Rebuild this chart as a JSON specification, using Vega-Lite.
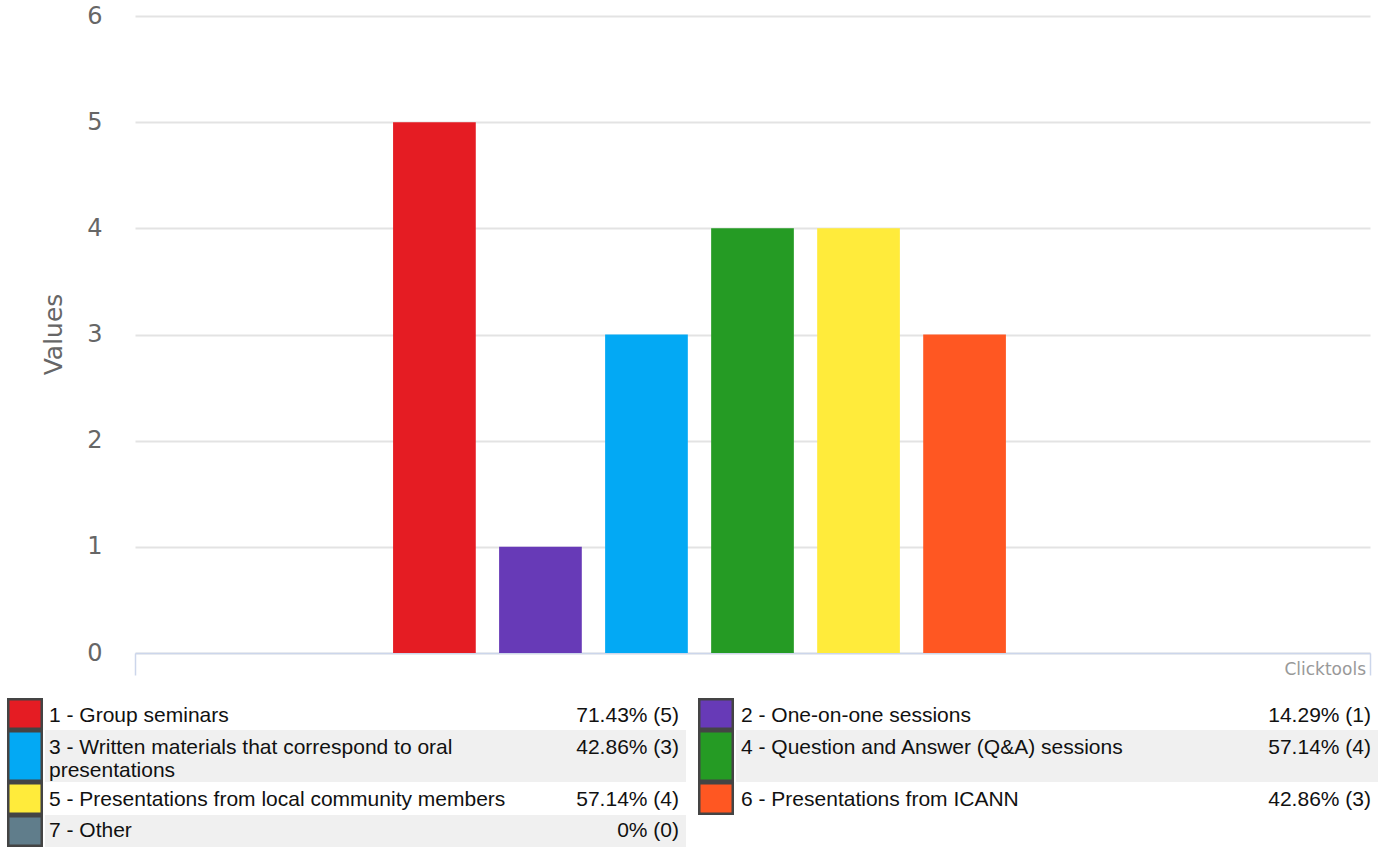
{
  "$schema": "https://vega.github.io/schema/vega-lite/v6.json",
  "padding": {"left": 7, "top": 4, "right": 0, "bottom": 0},
  "background": "white",
  "config": {"view": {"stroke": null}, "font": "Liberation Sans"},
  "data": {"values": [
    {"id": 1, "option": "1 - Group seminars", "legend_label": "1 - Group seminars", "count": 5, "share": "71.43% (5)"},
    {"id": 2, "option": "2 - One-on-one sessions", "legend_label": "2 - One-on-one sessions", "count": 1, "share": "14.29% (1)"},
    {"id": 3, "option": "3 - Written materials that correspond to oral presentations", "legend_label": "3 - Written materials that correspond to oral\npresentations", "count": 3, "share": "42.86% (3)"},
    {"id": 4, "option": "4 - Question and Answer (Q&A) sessions", "legend_label": "4 - Question and Answer (Q&A) sessions", "count": 4, "share": "57.14% (4)"},
    {"id": 5, "option": "5 - Presentations from local community members", "legend_label": "5 - Presentations from local community members", "count": 4, "share": "57.14% (4)"},
    {"id": 6, "option": "6 - Presentations from ICANN", "legend_label": "6 - Presentations from ICANN", "count": 3, "share": "42.86% (3)"},
    {"id": 7, "option": "7 - Other", "legend_label": "7 - Other", "count": 0, "share": "0% (0)"}
  ]},
  "spacing": 20,
  "vconcat": [
    {
      "spacing": 0,
      "hconcat": [
        {
          "data": {"values": [{"axis_title": "Values"}]},
          "width": 70,
          "height": 637,
          "mark": {"type": "text", "angle": 270, "align": "center", "baseline": "top", "font": "DejaVu Sans", "fontSize": 25, "color": "#666666"},
          "encoding": {"text": {"field": "axis_title"}}
        },
        {
          "width": 1235,
          "height": 637,
          "resolve": {"scale": {"x": "independent"}, "axis": {"x": "independent"}},
          "layer": [
            {
              "mark": {"type": "bar"},
              "encoding": {
                "x": {"datum": "Responses", "type": "nominal", "scale": {"paddingInner": 0, "paddingOuter": 0.332}, "axis": null},
                "xOffset": {"field": "option", "type": "nominal", "sort": null, "scale": {"paddingInner": 0.22, "paddingOuter": 0.11}},
                "y": {"field": "count", "type": "quantitative", "scale": {"domain": [0, 6]},
                  "axis": {"values": [0, 1, 2, 3, 4, 5, 6], "format": "d", "grid": true, "gridColor": "#e3e3e3", "gridWidth": 2, "domain": false, "ticks": false, "labelPadding": 33,
                    "labelFont": "DejaVu Sans", "labelFontSize": 24, "labelColor": "#666666", "minExtent": 58, "title": null}},
                "color": {"field": "option", "type": "nominal", "sort": null,
                  "scale": {"domain": ["1 - Group seminars", "2 - One-on-one sessions", "3 - Written materials that correspond to oral presentations", "4 - Question and Answer (Q&A) sessions", "5 - Presentations from local community members", "6 - Presentations from ICANN", "7 - Other"],
                    "range": ["#e51c23", "#673ab7", "#03a9f4", "#259b24", "#ffeb3b", "#ff5722", "#607d8b"]}, "legend": null}
              }
            },
            {
              "data": {"values": [{"credit": "Clicktools"}]},
              "mark": {"type": "text", "align": "right", "baseline": "alphabetic", "dx": -4, "dy": 22, "font": "DejaVu Sans", "fontSize": 17, "color": "#999999"},
              "encoding": {
                "x": {"datum": "Responses", "type": "nominal", "bandPosition": 1, "scale": {"paddingInner": 0, "paddingOuter": 0},
                  "axis": {"orient": "bottom", "labels": false, "title": null, "grid": false, "ticks": true, "tickBand": "extent", "tickSize": 22, "tickColor": "#ccd6eb", "tickWidth": 1.5, "domainColor": "#ccd6eb", "domainWidth": 1.5}},
                "y": {"datum": 0, "type": "quantitative"},
                "text": {"field": "credit"}
              }
            }
          ]
        }
      ]
    },
    {
      "spacing": 0,
      "vconcat": [
        {
          "spacing": 12,
          "hconcat": [
            {"spacing": 2, "hconcat": [
              {"transform": [{"filter": "datum.id == 1"}], "width": 36, "height": 32, "mark": {"type": "rect", "stroke": "#444444", "strokeWidth": 5, "clip": true},
               "encoding": {"color": {"field": "option", "type": "nominal", "scale": {"domain": ["1 - Group seminars", "2 - One-on-one sessions", "3 - Written materials that correspond to oral presentations", "4 - Question and Answer (Q&A) sessions", "5 - Presentations from local community members", "6 - Presentations from ICANN", "7 - Other"], "range": ["#e51c23", "#673ab7", "#03a9f4", "#259b24", "#ffeb3b", "#ff5722", "#607d8b"]}, "legend": null}}},
              {"transform": [{"filter": "datum.id == 1"}], "width": 641, "height": 32, "layer": [
                {"mark": {"type": "text", "align": "left", "baseline": "middle", "dx": 4, "dy": 2, "fontSize": 21, "color": "#111111", "lineBreak": "\n", "lineHeight": 23, "clip": true},
                 "encoding": {"x": {"datum": 0, "type": "quantitative", "scale": {"domain": [0, 1]}, "axis": null}, "text": {"field": "legend_label"}}},
                {"mark": {"type": "text", "align": "right", "baseline": "middle", "dx": -7, "dy": 2, "fontSize": 21, "color": "#111111", "clip": true},
                 "encoding": {"x": {"datum": 1, "type": "quantitative", "scale": {"domain": [0, 1]}, "axis": null}, "text": {"field": "share"}}}
              ]}
            ]},
            {"spacing": 2, "hconcat": [
              {"transform": [{"filter": "datum.id == 2"}], "width": 36, "height": 32, "mark": {"type": "rect", "stroke": "#444444", "strokeWidth": 5, "clip": true},
               "encoding": {"color": {"field": "option", "type": "nominal", "scale": {"domain": ["1 - Group seminars", "2 - One-on-one sessions", "3 - Written materials that correspond to oral presentations", "4 - Question and Answer (Q&A) sessions", "5 - Presentations from local community members", "6 - Presentations from ICANN", "7 - Other"], "range": ["#e51c23", "#673ab7", "#03a9f4", "#259b24", "#ffeb3b", "#ff5722", "#607d8b"]}, "legend": null}}},
              {"transform": [{"filter": "datum.id == 2"}], "width": 642, "height": 32, "layer": [
                {"mark": {"type": "text", "align": "left", "baseline": "middle", "dx": 5, "dy": 2, "fontSize": 21, "color": "#111111", "lineBreak": "\n", "lineHeight": 23, "clip": true},
                 "encoding": {"x": {"datum": 0, "type": "quantitative", "scale": {"domain": [0, 1]}, "axis": null}, "text": {"field": "legend_label"}}},
                {"mark": {"type": "text", "align": "right", "baseline": "middle", "dx": -7, "dy": 2, "fontSize": 21, "color": "#111111", "clip": true},
                 "encoding": {"x": {"datum": 1, "type": "quantitative", "scale": {"domain": [0, 1]}, "axis": null}, "text": {"field": "share"}}}
              ]}
            ]}
          ]
        },
        {
          "spacing": 12,
          "hconcat": [
            {"spacing": 2, "hconcat": [
              {"transform": [{"filter": "datum.id == 3"}], "width": 36, "height": 52, "mark": {"type": "rect", "stroke": "#444444", "strokeWidth": 5, "clip": true},
               "encoding": {"color": {"field": "option", "type": "nominal", "scale": {"domain": ["1 - Group seminars", "2 - One-on-one sessions", "3 - Written materials that correspond to oral presentations", "4 - Question and Answer (Q&A) sessions", "5 - Presentations from local community members", "6 - Presentations from ICANN", "7 - Other"], "range": ["#e51c23", "#673ab7", "#03a9f4", "#259b24", "#ffeb3b", "#ff5722", "#607d8b"]}, "legend": null}}},
              {"transform": [{"filter": "datum.id == 3"}], "width": 641, "height": 52, "view": {"fill": "#f0f0f0", "stroke": null}, "layer": [
                {"mark": {"type": "text", "align": "left", "baseline": "middle", "dx": 4, "dy": -8, "fontSize": 21, "color": "#111111", "lineBreak": "\n", "lineHeight": 23, "clip": true},
                 "encoding": {"x": {"datum": 0, "type": "quantitative", "scale": {"domain": [0, 1]}, "axis": null}, "text": {"field": "legend_label"}}},
                {"mark": {"type": "text", "align": "right", "baseline": "middle", "dx": -7, "dy": -8, "fontSize": 21, "color": "#111111", "clip": true},
                 "encoding": {"x": {"datum": 1, "type": "quantitative", "scale": {"domain": [0, 1]}, "axis": null}, "text": {"field": "share"}}}
              ]}
            ]},
            {"spacing": 2, "hconcat": [
              {"transform": [{"filter": "datum.id == 4"}], "width": 36, "height": 52, "mark": {"type": "rect", "stroke": "#444444", "strokeWidth": 5, "clip": true},
               "encoding": {"color": {"field": "option", "type": "nominal", "scale": {"domain": ["1 - Group seminars", "2 - One-on-one sessions", "3 - Written materials that correspond to oral presentations", "4 - Question and Answer (Q&A) sessions", "5 - Presentations from local community members", "6 - Presentations from ICANN", "7 - Other"], "range": ["#e51c23", "#673ab7", "#03a9f4", "#259b24", "#ffeb3b", "#ff5722", "#607d8b"]}, "legend": null}}},
              {"transform": [{"filter": "datum.id == 4"}], "width": 642, "height": 52, "view": {"fill": "#f0f0f0", "stroke": null}, "layer": [
                {"mark": {"type": "text", "align": "left", "baseline": "middle", "dx": 5, "dy": -8, "fontSize": 21, "color": "#111111", "lineBreak": "\n", "lineHeight": 23, "clip": true},
                 "encoding": {"x": {"datum": 0, "type": "quantitative", "scale": {"domain": [0, 1]}, "axis": null}, "text": {"field": "legend_label"}}},
                {"mark": {"type": "text", "align": "right", "baseline": "middle", "dx": -7, "dy": -8, "fontSize": 21, "color": "#111111", "clip": true},
                 "encoding": {"x": {"datum": 1, "type": "quantitative", "scale": {"domain": [0, 1]}, "axis": null}, "text": {"field": "share"}}}
              ]}
            ]}
          ]
        },
        {
          "spacing": 12,
          "hconcat": [
            {"spacing": 2, "hconcat": [
              {"transform": [{"filter": "datum.id == 5"}], "width": 36, "height": 33, "mark": {"type": "rect", "stroke": "#444444", "strokeWidth": 5, "clip": true},
               "encoding": {"color": {"field": "option", "type": "nominal", "scale": {"domain": ["1 - Group seminars", "2 - One-on-one sessions", "3 - Written materials that correspond to oral presentations", "4 - Question and Answer (Q&A) sessions", "5 - Presentations from local community members", "6 - Presentations from ICANN", "7 - Other"], "range": ["#e51c23", "#673ab7", "#03a9f4", "#259b24", "#ffeb3b", "#ff5722", "#607d8b"]}, "legend": null}}},
              {"transform": [{"filter": "datum.id == 5"}], "width": 641, "height": 33, "layer": [
                {"mark": {"type": "text", "align": "left", "baseline": "middle", "dx": 4, "dy": 1.5, "fontSize": 21, "color": "#111111", "lineBreak": "\n", "lineHeight": 23, "clip": true},
                 "encoding": {"x": {"datum": 0, "type": "quantitative", "scale": {"domain": [0, 1]}, "axis": null}, "text": {"field": "legend_label"}}},
                {"mark": {"type": "text", "align": "right", "baseline": "middle", "dx": -7, "dy": 1.5, "fontSize": 21, "color": "#111111", "clip": true},
                 "encoding": {"x": {"datum": 1, "type": "quantitative", "scale": {"domain": [0, 1]}, "axis": null}, "text": {"field": "share"}}}
              ]}
            ]},
            {"spacing": 2, "hconcat": [
              {"transform": [{"filter": "datum.id == 6"}], "width": 36, "height": 33, "mark": {"type": "rect", "stroke": "#444444", "strokeWidth": 5, "clip": true},
               "encoding": {"color": {"field": "option", "type": "nominal", "scale": {"domain": ["1 - Group seminars", "2 - One-on-one sessions", "3 - Written materials that correspond to oral presentations", "4 - Question and Answer (Q&A) sessions", "5 - Presentations from local community members", "6 - Presentations from ICANN", "7 - Other"], "range": ["#e51c23", "#673ab7", "#03a9f4", "#259b24", "#ffeb3b", "#ff5722", "#607d8b"]}, "legend": null}}},
              {"transform": [{"filter": "datum.id == 6"}], "width": 642, "height": 33, "layer": [
                {"mark": {"type": "text", "align": "left", "baseline": "middle", "dx": 5, "dy": 1.5, "fontSize": 21, "color": "#111111", "lineBreak": "\n", "lineHeight": 23, "clip": true},
                 "encoding": {"x": {"datum": 0, "type": "quantitative", "scale": {"domain": [0, 1]}, "axis": null}, "text": {"field": "legend_label"}}},
                {"mark": {"type": "text", "align": "right", "baseline": "middle", "dx": -7, "dy": 1.5, "fontSize": 21, "color": "#111111", "clip": true},
                 "encoding": {"x": {"datum": 1, "type": "quantitative", "scale": {"domain": [0, 1]}, "axis": null}, "text": {"field": "share"}}}
              ]}
            ]}
          ]
        },
        {
          "spacing": 2,
          "hconcat": [
            {"transform": [{"filter": "datum.id == 7"}], "width": 36, "height": 32, "mark": {"type": "rect", "stroke": "#444444", "strokeWidth": 5, "clip": true},
             "encoding": {"color": {"field": "option", "type": "nominal", "scale": {"domain": ["1 - Group seminars", "2 - One-on-one sessions", "3 - Written materials that correspond to oral presentations", "4 - Question and Answer (Q&A) sessions", "5 - Presentations from local community members", "6 - Presentations from ICANN", "7 - Other"], "range": ["#e51c23", "#673ab7", "#03a9f4", "#259b24", "#ffeb3b", "#ff5722", "#607d8b"]}, "legend": null}}},
            {"transform": [{"filter": "datum.id == 7"}], "width": 641, "height": 32, "view": {"fill": "#f0f0f0", "stroke": null}, "layer": [
              {"mark": {"type": "text", "align": "left", "baseline": "middle", "dx": 4, "fontSize": 21, "color": "#111111", "lineBreak": "\n", "lineHeight": 23, "clip": true},
               "encoding": {"x": {"datum": 0, "type": "quantitative", "scale": {"domain": [0, 1]}, "axis": null}, "text": {"field": "legend_label"}}},
              {"mark": {"type": "text", "align": "right", "baseline": "middle", "dx": -7, "fontSize": 21, "color": "#111111", "clip": true},
               "encoding": {"x": {"datum": 1, "type": "quantitative", "scale": {"domain": [0, 1]}, "axis": null}, "text": {"field": "share"}}}
            ]}
          ]
        }
      ]
    }
  ]
}
